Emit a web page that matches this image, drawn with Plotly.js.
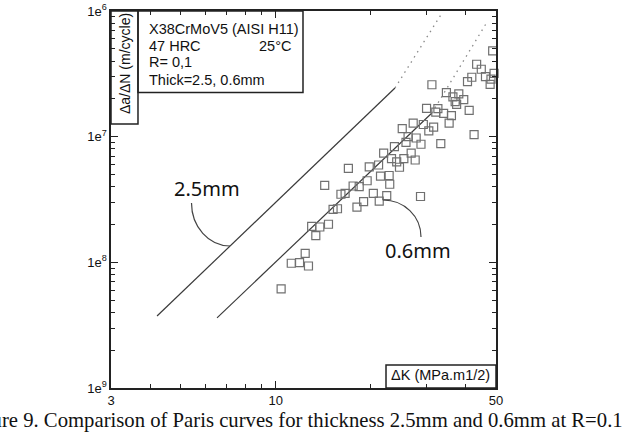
<!DOCTYPE html>
<html>
<head>
<meta charset="utf-8">
<script src="https://cdn.plot.ly/plotly-3.0.1.min.js"></script>
<style>html,body{margin:0;padding:0;background:#fff;}#chart{width:628px;height:446px;}</style>
</head>
<body>
<div id="chart"></div>
<script>
// Measured data points (ΔK in MPa·m^1/2, da/dN in m/cycle), thickness 0.6 mm
const dK_06 = [48.8, 43.4, 44.9, 49.3, 46.3, 48.2, 47.9, 41.9, 40.6, 31.3,
  34.8, 38.1, 36.5, 39.5, 37.1, 37.5, 41.1, 30.1, 32.7, 32.2,
  34.1, 36.1, 35.5, 29.4, 31.7, 27.3, 30.6, 25.2, 42.6, 26.3,
  27.9, 25.9, 28.9, 33.4, 23.8, 22.0, 26.9, 23.3, 25.5, 27.7,
  24.2, 24.7, 21.2, 19.8, 17.0, 19.5, 21.5, 22.9, 23.0, 17.6,
  18.4, 14.3, 16.1, 16.6, 20.4, 22.5, 21.3, 19.0, 18.1, 15.7,
  15.2, 28.8, 13.0, 13.8, 14.7, 13.4, 12.4, 11.2, 11.9, 12.7, 10.4];
const dadN_06 = [4.81e-7, 3.77e-7, 3.44e-7, 3.19e-7, 3.00e-7, 2.87e-7, 2.61e-7, 2.97e-7, 2.74e-7, 2.59e-7,
  2.24e-7, 2.19e-7, 2.07e-7, 1.97e-7, 1.90e-7, 1.81e-7, 1.62e-7, 1.68e-7, 1.67e-7, 1.57e-7,
  1.53e-7, 1.47e-7, 1.28e-7, 1.25e-7, 1.19e-7, 1.28e-7, 1.11e-7, 1.16e-7, 1.04e-7, 9.99e-8,
  9.76e-8, 9.02e-8, 8.70e-8, 8.79e-8, 8.32e-8, 7.41e-8, 7.41e-8, 6.68e-8, 6.68e-8, 6.52e-8,
  6.29e-8, 5.71e-8, 5.95e-8, 5.74e-8, 5.60e-8, 4.46e-8, 4.86e-8, 4.91e-8, 4.18e-8, 4.05e-8,
  4.00e-8, 4.09e-8, 3.48e-8, 3.54e-8, 3.54e-8, 3.39e-8, 3.07e-8, 3.04e-8, 2.75e-8, 2.67e-8,
  2.64e-8, 3.34e-8, 1.93e-8, 1.91e-8, 2.01e-8, 1.63e-8, 1.18e-8, 9.83e-9, 9.93e-9, 9.35e-9, 6.14e-9];

// Paris fit lines (solid) and extrapolations (dotted)
const paris25_dK = [4.20, 23.9];
const paris25_dadN = [3.74e-9, 2.44e-7];
const paris25ext_dK = [23.9, 33.7];
const paris25ext_dadN = [2.44e-7, 9.64e-7];
const paris06_dK = [6.51, 31.3];
const paris06_dadN = [3.61e-9, 1.543e-7];
const paris06ext_dK = [31.3, 46.9];
const paris06ext_dadN = [1.543e-7, 8.22e-7];

// Axis ticks
const xTickVals = [3, 10, 50];
const xTickText = ['3', '10', '50'];
const xMinorVals = [4, 5, 6, 7, 8, 9, 20, 30, 40];
const yTickVals = [1e-9, 1e-8, 1e-7, 1e-6];
const yTickText = ['1e<sup>9</sup>', '1e<sup>8</sup>', '1e<sup>7</sup>', '1e<sup>6</sup>'];
const yMinorVals = [];
[1e-9, 1e-8, 1e-7].forEach(d => { for (let m = 2; m <= 9; m++) yMinorVals.push(m * d); });

const lineCol = '#3a3a3a';
const traces = [
  {x: paris25_dK, y: paris25_dadN, mode: 'lines', line: {color: lineCol, width: 1.2}, hoverinfo: 'skip'},
  {x: paris25ext_dK, y: paris25ext_dadN, mode: 'lines', line: {color: '#8a8a8a', width: 1.3, dash: '1.5px,4.5px'}, hoverinfo: 'skip'},
  {x: paris06_dK, y: paris06_dadN, mode: 'lines', line: {color: lineCol, width: 1.2}, hoverinfo: 'skip'},
  {x: paris06ext_dK, y: paris06ext_dadN, mode: 'lines', line: {color: '#8a8a8a', width: 1.3, dash: '1.5px,4.5px'}, hoverinfo: 'skip'},
  {x: dK_06, y: dadN_06, mode: 'markers', cliponaxis: false,
   marker: {symbol: 'square-open', size: 8, color: '#707070', line: {width: 1.2, color: '#707070'}}}
];

const axCommon = {
  type: 'log', showline: true, linecolor: '#222', linewidth: 1.6, mirror: 'allticks',
  ticks: 'inside', ticklen: 7, tickwidth: 1.1, tickcolor: '#222', showgrid: false, zeroline: false,
  tickfont: {family: 'Liberation Sans, Arial, sans-serif', size: 13, color: '#111'},
  tickmode: 'array'
};

const F = 'Liberation Sans, Arial, sans-serif';
const ann = (text, x, y, opts) => Object.assign({text, x, y, xref: 'paper', yref: 'paper', showarrow: false,
  xanchor: 'left', yanchor: 'middle', font: {family: F, size: 14.5, color: '#111'}}, opts || {});

const layout = {
  width: 628, height: 446,
  margin: {l: 111, r: 132, t: 11, b: 58},
  paper_bgcolor: '#fff', plot_bgcolor: '#fff',
  showlegend: false,
  xaxis: Object.assign({}, axCommon, {range: [Math.log10(3), Math.log10(50)], tickvals: xTickVals, ticktext: xTickText,
    minor: {ticks: 'inside', ticklen: 4, tickwidth: 1, tickcolor: '#222', tickvals: xMinorVals, showgrid: false}}),
  yaxis: Object.assign({}, axCommon, {range: [-9, -6], tickvals: yTickVals, ticktext: yTickText,
    minor: {ticks: 'inside', ticklen: 4, tickwidth: 1, tickcolor: '#222', tickvals: yMinorVals, showgrid: false}}),
  shapes: [
    {type: 'rect', xref: 'paper', yref: 'paper', x0: 0, x1: 0.0701, y0: 0.7003, y1: 1, line: {color: '#222', width: 1.5}, fillcolor: 'rgba(255,255,255,0)'},
    {type: 'rect', xref: 'paper', yref: 'paper', x0: 0.0701, x1: 0.4987, y0: 0.7838, y1: 1, line: {color: '#222', width: 1.5}, fillcolor: 'rgba(255,255,255,0)'},
    {type: 'rect', xref: 'paper', yref: 'paper', x0: 0.7143, x1: 1, y0: 0, y1: 0.061, line: {color: '#222', width: 1.5}, fillcolor: 'rgba(255,255,255,0)'},
    {type: 'path', xref: 'paper', yref: 'paper', path: 'M0.2091,0.4907 C0.2091,0.4279 0.2538,0.3767 0.3091,0.3767', line: {color: '#444', width: 1.2}},
    {type: 'path', xref: 'paper', yref: 'paper', path: 'M0.7065,0.4987 C0.7610,0.4987 0.8052,0.4562 0.8052,0.4005', line: {color: '#444', width: 1.2}}
  ],
  annotations: [
    ann('X38CrMoV5 (AISI H11)', 0.0927, 0.9515),
    ann('47 HRC', 0.0927, 0.9072),
    ann('25°C', 0.4719, 0.9072, {xanchor: 'right'}),
    ann('R= 0,1', 0.0927, 0.8639),
    ann('Thick=2.5, 0.6mm', 0.0927, 0.8170),
    ann('Δa/ΔN (m/cycle)', 0.0364, 0.8594, {xanchor: 'center', textangle: -90, font: {family: F, size: 14, color: '#111'}}),
    ann('ΔK (MPa.m1/2)', 0.8558, 0.0345, {xanchor: 'center'}),
    ann('2.5mm', 0.2494, 0.5305, {xanchor: 'center', font: {family: 'Noto Sans, Open Sans, sans-serif', size: 20, color: '#111'}}),
    ann('0.6mm', 0.7987, 0.366, {xanchor: 'center', font: {family: 'Noto Sans, Open Sans, sans-serif', size: 20, color: '#111'}}),
    ann('Figure 9. Comparison of Paris curves for thickness 2.5mm and 0.6mm at R=0.1', 1.335, -0.0875,
      {xanchor: 'right', font: {family: 'Liberation Serif, Times New Roman, serif', size: 20.7, color: '#111'}})
  ]
};

Plotly.newPlot('chart', traces, layout, {displayModeBar: false, staticPlot: true});
</script>
</body>
</html>
